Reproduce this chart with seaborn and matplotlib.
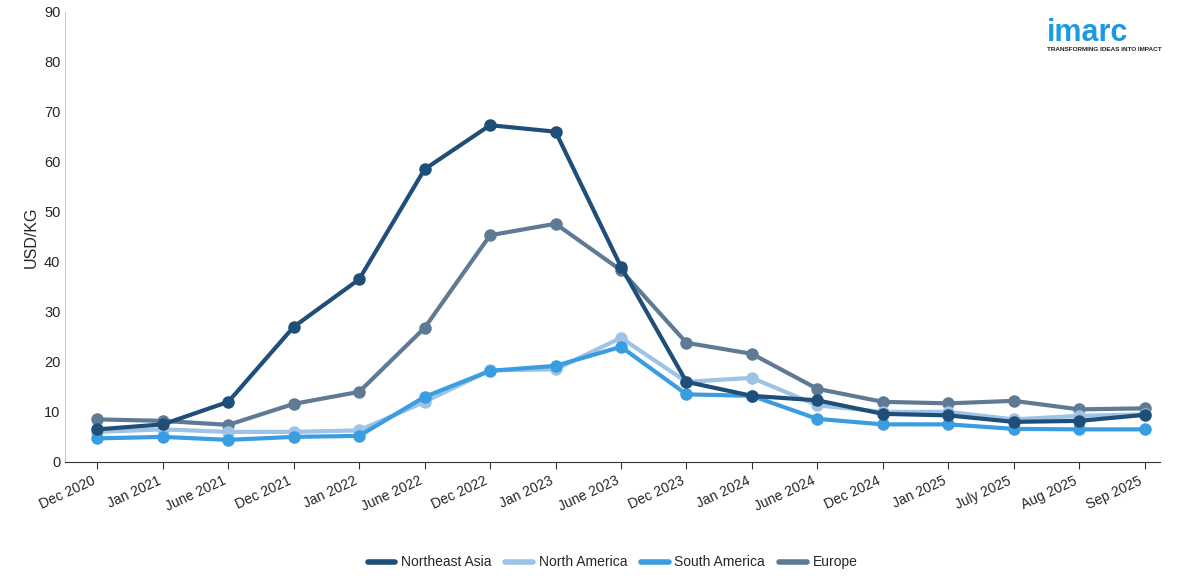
import matplotlib
matplotlib.use("Agg")
import matplotlib.pyplot as plt
import seaborn as sns
import pandas as pd
from matplotlib.lines import Line2D

dates = ["Dec 2020","Jan 2021","June 2021","Dec 2021","Jan 2022","June 2022","Dec 2022","Jan 2023","June 2023","Dec 2023","Jan 2024","June 2024","Dec 2024","Jan 2025","July 2025","Aug 2025","Sep 2025"]
northeast_asia = [6.5,7.5,12,27,36.5,58.5,67.3,66,39,16,13.2,12.3,9.6,9.3,8,8.2,9.4]
north_america = [6,6.5,6,6,6.3,12,18.3,18.5,24.8,16,16.8,11.3,10,10,8.5,9.2,9.5]
south_america = [4.7,5,4.4,5,5.2,13,18.2,19.2,23,13.5,13.2,8.6,7.5,7.5,6.6,6.5,6.5]
europe = [8.5,8.2,7.4,11.6,14,26.8,45.3,47.6,38.3,23.8,21.6,14.6,12,11.7,12.2,10.5,10.7]

series = {"Northeast Asia": northeast_asia, "North America": north_america,
          "South America": south_america, "Europe": europe}
colors = {"Northeast Asia": "#1f4e79", "North America": "#9dc3e6",
          "South America": "#3a9de0", "Europe": "#5e7a94"}

rows = []
for name, vals in series.items():
    for i, v in enumerate(vals):
        rows.append({"x": i, "value": v, "Region": name})
df = pd.DataFrame(rows)

sns.set_style("white")
plt.rcParams['font.family'] = ['Liberation Sans', 'DejaVu Sans']
fig = plt.figure(figsize=(11.87, 5.81), dpi=100)
ax = fig.add_axes([0.055, 0.205, 0.922, 0.775])
draw_order = ["Europe", "North America", "South America", "Northeast Asia"]
for name in draw_order:
    d = df[df.Region == name]
    sns.lineplot(data=d, x="x", y="value", color=colors[name], lw=3, marker="o",
                 markersize=9, markeredgewidth=0, ax=ax, label=name)
ax.set_xlim(-0.49, len(dates) - 0.77)
ax.set_ylim(0, 90)
ax.set_yticks(range(0, 91, 10))
ax.set_xticks(range(len(dates)))
ax.set_xticklabels(dates, rotation=25, ha="right", fontsize=10)
ax.tick_params(axis="y", labelsize=10.5, length=0)
ax.tick_params(axis="x", length=5, color="#333333", bottom=True)
ax.set_xlabel("")
ax.set_ylabel("USD/KG", fontsize=11.5)
for s in ["top", "right"]:
    ax.spines[s].set_visible(False)
ax.spines["left"].set_color("#cccccc")
ax.spines["bottom"].set_color("#333333")
order = ["Northeast Asia", "North America", "South America", "Europe"]
hs = [Line2D([0], [0], color=colors[n], lw=4) for n in order]
ax.legend(hs, order, loc="upper center", bbox_to_anchor=(0.5, -0.18), ncol=4,
          frameon=False, fontsize=10, handlelength=2.0, columnspacing=1.0, handletextpad=0.4)
fig.text(0.882, 0.93, "imarc", fontsize=22, color="#1a9be0", ha="left", fontweight="bold")
fig.text(0.882, 0.912, "TRANSFORMING IDEAS INTO IMPACT", fontsize=4.6, color="#222222", ha="left", fontweight="bold")
fig.savefig("out.png", dpi=100)
